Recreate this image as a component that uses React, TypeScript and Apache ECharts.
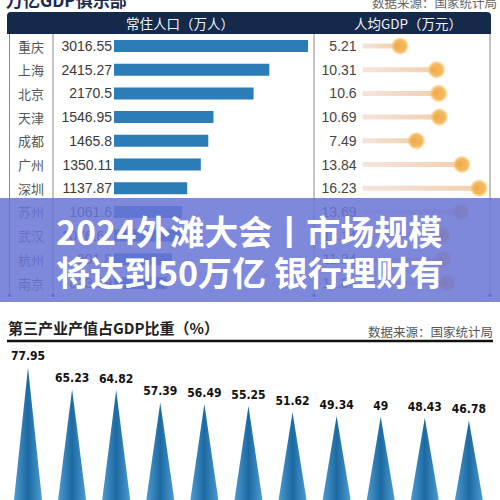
import React, { useEffect, useRef } from "react";
import * as echarts from "echarts";

const cities = ["重庆", "上海", "北京", "天津", "成都", "广州", "深圳", "苏州", "武汉", "杭州", "南京"];
const population = [3016.55, 2415.27, 2170.5, 1546.95, 1465.8, 1350.11, 1137.87, 1061.6, 1076.62, 901.8, 823.59];
const gdpPerCapita = [5.21, 10.31, 10.6, 10.69, 7.49, 13.84, 16.23, 13.69, 11.14, 11.24, 11.83];
const tertiaryCities = ["北京", "上海", "广州", "深圳", "杭州", "南京", "武汉", "成都", "天津", "重庆", "苏州"];
const tertiaryShare = [77.95, 65.23, 64.82, 57.39, 56.49, 55.25, 51.62, 49.34, 49, 48.43, 46.78];

const CJK = "'Noto Sans CJK SC', 'Noto Sans', sans-serif";
const NUM = "'Liberation Sans', Arial, 'Noto Sans CJK SC', sans-serif";
const NARROW = "'Liberation Sans Narrow', 'Arial Narrow', 'DejaVu Sans Condensed', sans-serif";

export default function App() {
  const ref = useRef<HTMLDivElement>(null);
  useEffect(() => {
    if (!ref.current) return;
    const chart = echarts.init(ref.current, null, { renderer: "svg" });
    const rowTop = 34.15;
    const rowH = 260.7;
    const lineColor = "#8a8a8a";
    const vx = [9.5, 53, 314, 490];
    const option: any = {
      animation: false,
      backgroundColor: "#ffffff",
      grid: [
        { left: 114, top: rowTop, width: 194, height: rowH },
        { left: 362.6, top: rowTop, width: 121.9, height: rowH },
        { left: 5.95, top: 364, width: 485, height: 195 },
      ],
      xAxis: [
        { type: "value", gridIndex: 0, min: 0, max: 3016.55, show: false },
        { type: "value", gridIndex: 1, min: 0, max: 17, show: false },
        { type: "category", gridIndex: 2, data: tertiaryCities, show: false },
      ],
      yAxis: [
        {
          type: "category",
          gridIndex: 0,
          data: cities,
          inverse: true,
          axisLine: { show: false },
          axisTick: { show: false },
          splitLine: { show: false },
          axisLabel: { margin: 83, align: "center", fontSize: 13, color: "#555", fontFamily: CJK },
        },
        { type: "category", gridIndex: 1, data: cities, inverse: true, show: false },
        { type: "value", gridIndex: 2, min: 0, max: 80, show: false },
      ],
      series: [
        {
          type: "bar",
          xAxisIndex: 0,
          yAxisIndex: 0,
          data: population,
          barWidth: 12,
          itemStyle: { color: "#2b7cb7" },
          label: { show: true, position: "left", distance: 2, fontSize: 14, color: "#3a3a3a", fontFamily: NUM },
        },
        {
          type: "bar",
          xAxisIndex: 1,
          yAxisIndex: 1,
          data: gdpPerCapita,
          barWidth: 5,
          itemStyle: {
            color: new echarts.graphic.LinearGradient(0, 0, 1, 0, [
              { offset: 0, color: "#f5e4dc" },
              { offset: 1, color: "#f2cfae" },
            ]),
          },
          label: { show: true, position: "left", distance: 6, fontSize: 14, color: "#444", fontFamily: NUM },
        },
        {
          type: "scatter",
          xAxisIndex: 1,
          yAxisIndex: 1,
          data: gdpPerCapita.map((v, i) => [v, cities[i]]),
          symbolSize: 14,
          itemStyle: { color: "#f0a232", borderColor: "rgba(248,196,110,0.7)", borderWidth: 3 },
        },
        {
          type: "pictorialBar",
          xAxisIndex: 2,
          yAxisIndex: 2,
          data: tertiaryShare,
          symbol: "triangle",
          symbolSize: [28, "100%"],
          itemStyle: {
            color: new echarts.graphic.LinearGradient(0, 0, 1, 0, [
              { offset: 0, color: "#4d9ad0" },
              { offset: 0.5, color: "#1d6aa3" },
              { offset: 1, color: "#4d9ad0" },
            ]),
          },
          label: {
            show: true,
            position: "top",
            distance: 5,
            fontSize: 12,
            fontWeight: "bold",
            color: "#111",
            fontFamily: NARROW,
          },
        },
      ],
      graphic: [
        {
          type: "text",
          left: 6,
          top: -9,
          style: { text: "万亿GDP俱乐部", fontSize: 17, fontWeight: "bold", fill: "#1b2b4d", fontFamily: CJK },
        },
        {
          type: "text",
          right: 3,
          top: -4,
          style: { text: "数据来源：国家统计局", fontSize: 12.5, fill: "#666", fontFamily: CJK },
        },
        {
          type: "rect",
          shape: { x: 7, y: 12, width: 484, height: 22, r: [4, 4, 0, 0] },
          style: { fill: "#15294b" },
        },
        {
          type: "text",
          x: 180,
          y: 23,
          style: { text: "常住人口（万人）", fontSize: 13.5, fill: "#eef2f8", fontFamily: CJK, align: "center", verticalAlign: "middle" },
        },
        {
          type: "text",
          x: 408,
          y: 23,
          style: { text: "人均GDP（万元）", fontSize: 13.5, fill: "#eef2f8", fontFamily: CJK, align: "center", verticalAlign: "middle" },
        },
        ...vx.map((x) => ({
          type: "line",
          shape: { x1: x, y1: 34, x2: x, y2: 295 },
          style: { stroke: lineColor, lineWidth: 1 },
        })),
        ...vx.map((x) => ({
          type: "circle",
          shape: { cx: x, cy: 295.5, r: 1.6 },
          style: { fill: "#3a4a6a" },
        })),
        {
          type: "text",
          left: 8,
          top: 320,
          style: { text: "第三产业产值占GDP比重（%）", fontSize: 15, fontWeight: "bold", fill: "#222", fontFamily: CJK },
        },
        {
          type: "text",
          right: 7,
          top: 325,
          style: { text: "数据来源：国家统计局", fontSize: 12.5, fill: "#555", fontFamily: CJK },
        },
        {
          type: "line",
          shape: { x1: 7, y1: 341, x2: 493, y2: 341 },
          style: { stroke: "#111", lineWidth: 2.5 },
        },
        {
          type: "rect",
          z: 100,
          shape: { x: 0, y: 198, width: 500, height: 104 },
          style: { fill: "rgba(106,118,214,0.86)" },
        },
        {
          type: "text",
          z: 101,
          x: 56,
          y: 230,
          style: {
            text: "2024外滩大会丨市场规模",
            fontSize: 34,
            fontWeight: "bold",
            fill: "#ffffff",
            fontFamily: CJK,
            verticalAlign: "middle",
          },
        },
        {
          type: "text",
          z: 101,
          x: 56,
          y: 271,
          style: {
            text: "将达到50万亿 银行理财有",
            fontSize: 34,
            fontWeight: "bold",
            fill: "#ffffff",
            fontFamily: CJK,
            verticalAlign: "middle",
          },
        },
      ],
    };
    chart.setOption(option);
    return () => chart.dispose();
  }, []);
  return <div ref={ref} style={{ position: "fixed", left: 0, top: 0, width: 500, height: 500 }} />;
}
